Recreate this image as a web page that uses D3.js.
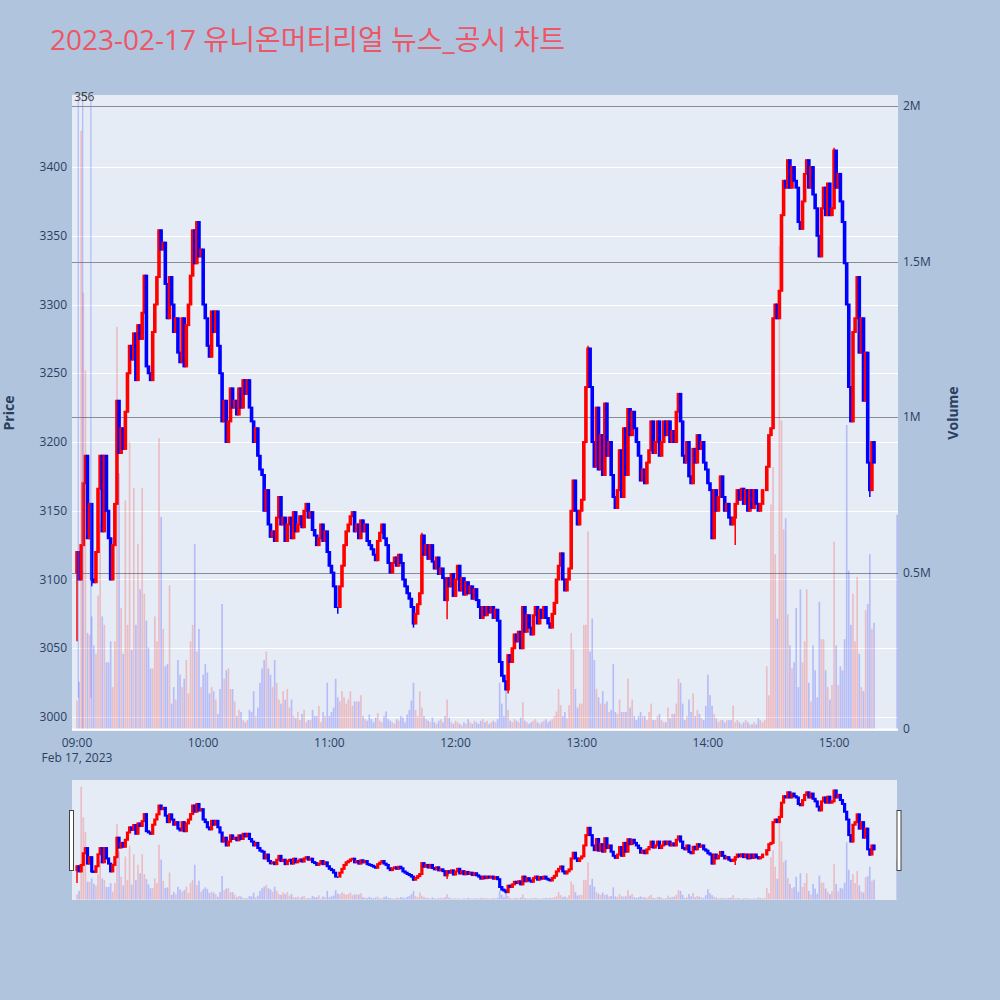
<!DOCTYPE html>
<html><head><meta charset="utf-8">
<script src="https://cdn.jsdelivr.net/npm/d3@7"></script>
<style>body{margin:0;background:#b0c4de;} svg{display:block}</style>
</head><body><svg id="c" width="1000" height="1000"></svg>
<script>
const title = "2023-02-17 유니온머티리얼 뉴스_공시 차트";
const firstOpen = 3105;
const closes = [
3120,3100,3125,3170,3190,3130,3155,3100,3098,3120,
3166,3190,3135,3190,3150,3130,3100,3125,3155,3230,
3192,3210,3195,3222,3250,3270,3260,3279,3245,3285,
3275,3294,3321,3255,3250,3245,3280,3300,3320,3354,
3340,3345,3315,3290,3320,3300,3280,3290,3265,3258,
3290,3255,3285,3300,3321,3354,3330,3360,3335,3340,
3300,3290,3270,3262,3295,3280,3295,3270,3250,3215,
3230,3200,3215,3239,3225,3230,3220,3239,3225,3245,
3235,3245,3225,3215,3200,3210,3190,3180,3176,3150,
3165,3140,3131,3135,3128,3145,3160,3140,3145,3128,
3140,3145,3130,3149,3135,3140,3146,3138,3150,3155,
3145,3149,3136,3132,3125,3130,3140,3128,3135,3120,
3110,3105,3095,3080,3080,3095,3110,3125,3135,3140,
3146,3149,3135,3140,3130,3143,3135,3140,3128,3125,
3122,3118,3114,3128,3134,3140,3130,3125,3112,3105,
3112,3116,3110,3118,3112,3100,3095,3090,3086,3080,
3068,3075,3082,3090,3132,3118,3125,3115,3125,3113,
3108,3116,3104,3108,3101,3085,3101,3095,3104,3088,
3100,3110,3092,3101,3089,3098,3090,3095,3086,3093,
3085,3080,3072,3080,3074,3080,3076,3080,3072,3078,
3070,3040,3030,3026,3020,3045,3040,3050,3060,3055,
3062,3050,3080,3062,3074,3065,3060,3074,3080,3068,
3078,3072,3080,3072,3068,3065,3075,3083,3100,3110,
3119,3100,3092,3100,3108,3150,3172,3150,3140,3150,
3158,3200,3240,3268,3240,3200,3182,3225,3180,3205,
3176,3228,3190,3200,3176,3160,3152,3165,3194,3160,
3210,3176,3224,3205,3222,3210,3200,3190,3172,3180,
3170,3185,3194,3215,3192,3200,3215,3190,3200,3215,
3205,3215,3200,3208,3200,3222,3235,3215,3190,3185,
3200,3175,3170,3195,3185,3205,3195,3200,3185,3180,
3170,3165,3130,3165,3150,3160,3175,3160,3150,3155,
3145,3140,3145,3155,3165,3158,3166,3155,3165,3150,
3165,3152,3165,3155,3150,3155,3165,3165,3182,3205,
3210,3290,3300,3290,3310,3365,3390,3385,3405,3385,
3400,3390,3385,3360,3355,3375,3395,3405,3385,3400,
3380,3370,3350,3335,3370,3385,3365,3388,3365,3370,
3412,3385,3395,3375,3360,3330,3300,3240,3215,3280,
3290,3320,3265,3290,3230,3265,3185,3165,3200,3185
];
const volumesK = [
90,150,1920,1400,1150,307,300,360,267,240,
427,660,360,333,213,213,280,133,280,1290,
820,387,240,733,333,920,253,773,333,593,
447,773,433,347,260,193,193,360,280,933,
680,320,200,207,460,80,133,93,220,173,
133,160,220,113,280,333,593,247,320,133,
173,207,180,113,133,120,93,47,127,400,
160,187,193,127,127,87,40,60,53,27,
20,27,60,53,120,40,67,147,193,220,
247,193,173,133,220,147,93,80,120,93,
127,67,93,40,33,53,27,47,60,20,
27,27,60,40,40,73,20,53,40,147,
40,53,67,160,100,87,120,100,80,93,
120,73,87,87,87,107,40,30,25,45,
30,20,35,50,25,20,40,55,30,25,
20,15,30,25,40,35,20,45,60,90,
147,60,40,120,67,40,30,25,20,35,
20,15,25,30,20,40,93,35,20,15,
25,20,15,10,20,15,30,20,15,25,
20,15,25,30,20,25,15,20,25,20,
30,147,80,40,133,60,25,20,30,25,
20,35,85,25,20,15,20,25,30,20,
15,20,25,30,20,25,30,40,55,127,
75,40,53,33,75,307,253,127,67,80,
80,333,333,633,247,353,220,127,100,80,
120,80,87,53,60,207,53,47,93,53,
53,53,160,67,93,40,27,40,53,40,
40,27,53,80,27,27,40,47,27,20,
20,67,33,47,47,80,160,147,80,27,
40,93,53,113,40,60,47,33,27,73,
173,107,73,47,33,20,27,27,20,27,
27,27,73,20,27,20,13,20,27,20,
13,13,20,13,33,27,20,27,200,107,
720,840,560,353,1550,990,640,675,367,267,
193,213,387,133,447,213,280,447,147,87,
267,187,100,407,287,287,187,133,93,140,
600,267,140,200,187,287,975,507,333,433,
280,487,240,133,120,380,400,560,320,340
];
const wickLows = [[0,3055],[7,3095],[124,3075],[160,3065],[176,3071],[205,3017],[313,3125],[377,3160]];
const wickHighs = [[164,3134],[243,3270],[360,3414],[57,3360]];
const closeAuction = {minute: 390, price: 3175, volumeK: 687};
const priceTicks = [3000,3050,3100,3150,3200,3250,3300,3350,3400];
const volumeTicksK = [0,500,1000,1500,2000];
const volumeTickLabels = ["0","0.5M","1M","1.5M","2M"];
const newsMarkers = [{minute:0.6, label:"35", full:false},{minute:2.7, label:"56", full:true},{minute:6.6, label:"", full:false}];

const UP = "#ff0000", DOWN = "#0000ff";
const svg = d3.select("#c");
const base = new Date(2023,1,17,9,0,0);
const t = m => new Date(base.getTime() + m*60000);

const P = {l:72, r:898, t:95, b:731};
const S = {l:72, r:897, t:780, b:900};
const x = d3.scaleTime().domain([t(-2.378), t(390.4)]).range([P.l, P.r]);
const y = d3.scaleLinear().domain([2989.8, 3452.4]).range([P.b, P.t]);
const yv = d3.scaleLinear().domain([-8, 2035]).range([P.b, P.t]);
const ys = d3.scaleLinear().domain([2989.8, 3452.4]).range([S.b, S.t]);
const yvs = d3.scaleLinear().domain([-8, 2035]).range([S.b, S.t]);

const font = "'Open Sans','Noto Sans CJK KR',sans-serif";
const txt = "#2a3f5f";

const lowMap = new Map(wickLows), highMap = new Map(wickHighs);
const candles = closes.map((c,i)=>{
  const o = i===0 ? firstOpen : closes[i-1];
  return {m:i, o, c, h: highMap.has(i)?highMap.get(i):Math.max(o,c), l: lowMap.has(i)?lowMap.get(i):Math.min(o,c), v: volumesK[i], up: c>o || (c===o && i>0 && closes[i-1]>=(i>1?closes[i-2]:firstOpen))};
});
candles.push({m:closeAuction.minute,o:closeAuction.price,c:closeAuction.price,h:closeAuction.price,l:closeAuction.price,v:closeAuction.volumeK,up:false});

// title
svg.append("text").attr("x",50).attr("y",50).attr("font-family",font).attr("font-size",28).attr("fill","#ee5565").text(title);

// main background
svg.append("rect").attr("x",P.l).attr("y",P.t).attr("width",P.r-P.l).attr("height",P.b-P.t).attr("fill","#e5ecf6");
const defs = svg.append("defs");
defs.append("clipPath").attr("id","clipMain").append("rect").attr("x",P.l).attr("y",P.t).attr("width",P.r-P.l).attr("height",P.b-P.t);
defs.append("clipPath").attr("id","clipSlider").append("rect").attr("x",S.l).attr("y",S.t).attr("width",S.r-S.l).attr("height",S.b-S.t);

const grid = svg.append("g");
grid.selectAll("line.pg").data(priceTicks).join("line")
  .attr("x1",P.l).attr("x2",P.r).attr("y1",d=>Math.round(y(d))+0.5).attr("y2",d=>Math.round(y(d))+0.5)
  .attr("stroke","#ffffff").attr("stroke-width",1);
grid.selectAll("line.vg").data(volumeTicksK).join("line")
  .attr("x1",P.l).attr("x2",P.r).attr("y1",d=>Math.round(yv(d))+0.5).attr("y2",d=>Math.round(yv(d))+0.5)
  .attr("stroke",d=>d===0?"#ffffff":"#8a8d96").attr("stroke-width",d=>d===0?2:1);

function drawTraces(g, ys_, yv_, bodyW, lineW){
  g.selectAll("rect.vol").data(candles).join("rect")
    .attr("x",d=>x(t(d.m))-0.84).attr("width",1.68)
    .attr("y",d=>yv_(d.v)).attr("height",d=>Math.max(0,yv_(0)-yv_(d.v)))
    .attr("fill",d=>d.up?UP:DOWN).attr("fill-opacity",0.2);
  g.selectAll("line.wick").data(candles).join("line")
    .attr("x1",d=>x(t(d.m))).attr("x2",d=>x(t(d.m)))
    .attr("y1",d=>ys_(d.h)).attr("y2",d=>ys_(d.l))
    .attr("stroke",d=>d.up?UP:DOWN).attr("stroke-width",1.5);
  g.selectAll("rect.body").data(candles).join("rect")
    .attr("x",d=>x(t(d.m))-bodyW/2).attr("width",bodyW)
    .attr("y",d=>ys_(Math.max(d.o,d.c))).attr("height",d=>Math.abs(ys_(d.o)-ys_(d.c)))
    .attr("fill",d=>d.up?UP:DOWN).attr("stroke",d=>d.up?UP:DOWN).attr("stroke-width",lineW);
}
const main = svg.append("g").attr("clip-path","url(#clipMain)");
drawTraces(main.append("g"), y, yv, 1.6, 2);

main.selectAll("line.news").data(newsMarkers).join("line")
  .attr("x1",d=>x(t(d.minute))).attr("x2",d=>x(t(d.minute)))
  .attr("y1",P.t).attr("y2",d=>d.full?yv(0):y(3014))
  .attr("stroke","#6f7ff5").attr("stroke-opacity",0.45).attr("stroke-width",1.2);
svg.selectAll("text.news").data(newsMarkers.filter(d=>d.label)).join("text")
  .attr("x",(d,i)=>x(t(d.minute))-(i===0?4:2)).attr("y",101).attr("font-family",font).attr("font-size",12).attr("fill","#444")
  .text(d=>d.label);

svg.selectAll("text.pt").data(priceTicks).join("text")
  .attr("x",67).attr("y",d=>y(d)).attr("dy","0.35em").attr("text-anchor","end")
  .attr("font-family",font).attr("font-size",12).attr("fill",txt).text(d=>d);
svg.selectAll("text.vt").data(volumeTicksK).join("text")
  .attr("x",903).attr("y",d=>yv(d)).attr("dy","0.35em").attr("text-anchor","start")
  .attr("font-family",font).attr("font-size",12).attr("fill",txt).text((d,i)=>volumeTickLabels[i]);
const hours = d3.timeHour.range(t(0), t(361));
svg.selectAll("text.xt").data(hours).join("text")
  .attr("x",d=>x(d)).attr("y",747).attr("text-anchor","middle")
  .attr("font-family",font).attr("font-size",12).attr("fill",txt).text(d3.timeFormat("%H:%M"));
svg.append("text").attr("x",x(t(0))).attr("y",762).attr("text-anchor","middle")
  .attr("font-family",font).attr("font-size",12).attr("fill",txt).text(d3.timeFormat("%b %-d, %Y")(t(0)));
svg.append("text").attr("transform","translate(14,413) rotate(-90)").attr("text-anchor","middle")
  .attr("font-family",font).attr("font-size",14).attr("font-weight","bold").attr("fill",txt).text("Price");
svg.append("text").attr("transform","translate(958,413) rotate(-90)").attr("text-anchor","middle")
  .attr("font-family",font).attr("font-size",14).attr("font-weight","bold").attr("fill",txt).text("Volume");

svg.append("rect").attr("x",S.l).attr("y",S.t).attr("width",S.r-S.l).attr("height",S.b-S.t).attr("fill","#e5ecf6");
const sl = svg.append("g").attr("clip-path","url(#clipSlider)");
drawTraces(sl, ys, yvs, 1.2, 2);
[S.l-2.5, S.r].forEach(hx=>{
  svg.append("rect").attr("x",hx).attr("y",810.5).attr("width",4).attr("height",60)
    .attr("fill","#fff").attr("stroke","#444").attr("stroke-width",1);
});
</script></body></html>
